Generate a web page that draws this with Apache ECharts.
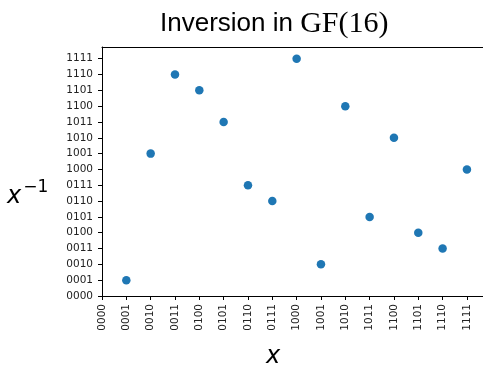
<!DOCTYPE html>
<html>
<head>
<meta charset="utf-8">
<script src="https://cdn.jsdelivr.net/npm/echarts@6/dist/echarts.min.js"></script>
<style>html,body{margin:0;padding:0;background:#fff}#c{width:483px;height:365px}</style>
</head>
<body>
<div id="c"></div>
<script>
const tickLabels = ['0000','0001','0010','0011','0100','0101','0110','0111','1000','1001','1010','1011','1100','1101','1110','1111'];
const xValues = [1,2,3,4,5,6,7,8,9,10,11,12,13,14,15];
const inverseValues = [1,9,14,13,11,7,6,15,2,12,5,10,4,3,8];
const tickValues = [0,1,2,3,4,5,6,7,8,9,10,11,12,13,14,15];

const chart = echarts.init(document.getElementById('c'), null, {renderer: 'canvas'});
const labelFmt = v => (Number.isInteger(v) && v >= 0 && v < 16) ? tickLabels[v] : '';
chart.setOption({
  animation: false,
  backgroundColor: '#fff',
  title: {
    text: '{s|Inversion in }{m|GF(16)}',
    left: 155, top: 1,
    textStyle: {
      fontWeight: 'normal',
      rich: {
        s: {fontFamily: 'Liberation Sans', fontSize: 26, fontWeight: 'normal', color: '#000', lineHeight: 36},
        m: {fontFamily: 'Liberation Serif', fontSize: 30, fontWeight: 'normal', color: '#000', lineHeight: 36}
      }
    }
  },
  grid: {left: 102, top: 47, right: 0, bottom: 69, show: false},
  xAxis: [{
    type: 'value', min: 0, max: 15.66,
    splitLine: {show: false},
    axisLine: {lineStyle: {color: '#000', width: 1}},
    axisTick: {show: true, length: 4, lineStyle: {color: '#000'}, customValues: tickValues},
    axisLabel: {
      rotate: 90, margin: 8, fontFamily: 'DejaVu Sans', fontSize: 10.5, color: '#222',
      customValues: tickValues, formatter: labelFmt
    }
  }, {
    type: 'value', position: 'top', min: 0, max: 15.66,
    splitLine: {show: false},
    axisLine: {show: true, lineStyle: {color: '#000', width: 1}},
    axisTick: {show: false}, axisLabel: {show: false}
  }],
  yAxis: {
    type: 'value', min: 0, max: 15.74,
    splitLine: {show: false},
    axisLine: {show: true, lineStyle: {color: '#000', width: 1}},
    axisTick: {show: true, length: 4, lineStyle: {color: '#000'}, customValues: tickValues},
    axisLabel: {
      margin: 9, fontFamily: 'DejaVu Sans', fontSize: 10.5, color: '#222',
      customValues: tickValues, formatter: labelFmt
    }
  },
  graphic: [
    {
      type: 'text', left: 7, top: 179,
      style: {
        text: '{a|x}{b|−1}',
        rich: {
          a: {fontFamily: 'DejaVu Sans', fontStyle: 'italic', fontSize: 24, fill: '#000', lineHeight: 30, verticalAlign: 'bottom'},
          b: {fontFamily: 'DejaVu Sans', fontSize: 17, fill: '#000', lineHeight: 18, verticalAlign: 'top', padding: [0, 0, 0, 2]}
        }
      }
    },
    {
      type: 'text', left: 266, top: 345,
      style: {text: 'x', fontFamily: 'DejaVu Sans', fontStyle: 'italic', fontSize: 24, fill: '#000'}
    }
  ],
  series: [{
    type: 'scatter',
    xAxisIndex: 0,
    data: xValues.map((x, i) => [x, inverseValues[i]]),
    symbolSize: 8.5,
    itemStyle: {color: '#1f77b4', opacity: 1}
  }]
});
</script>
</body>
</html>
